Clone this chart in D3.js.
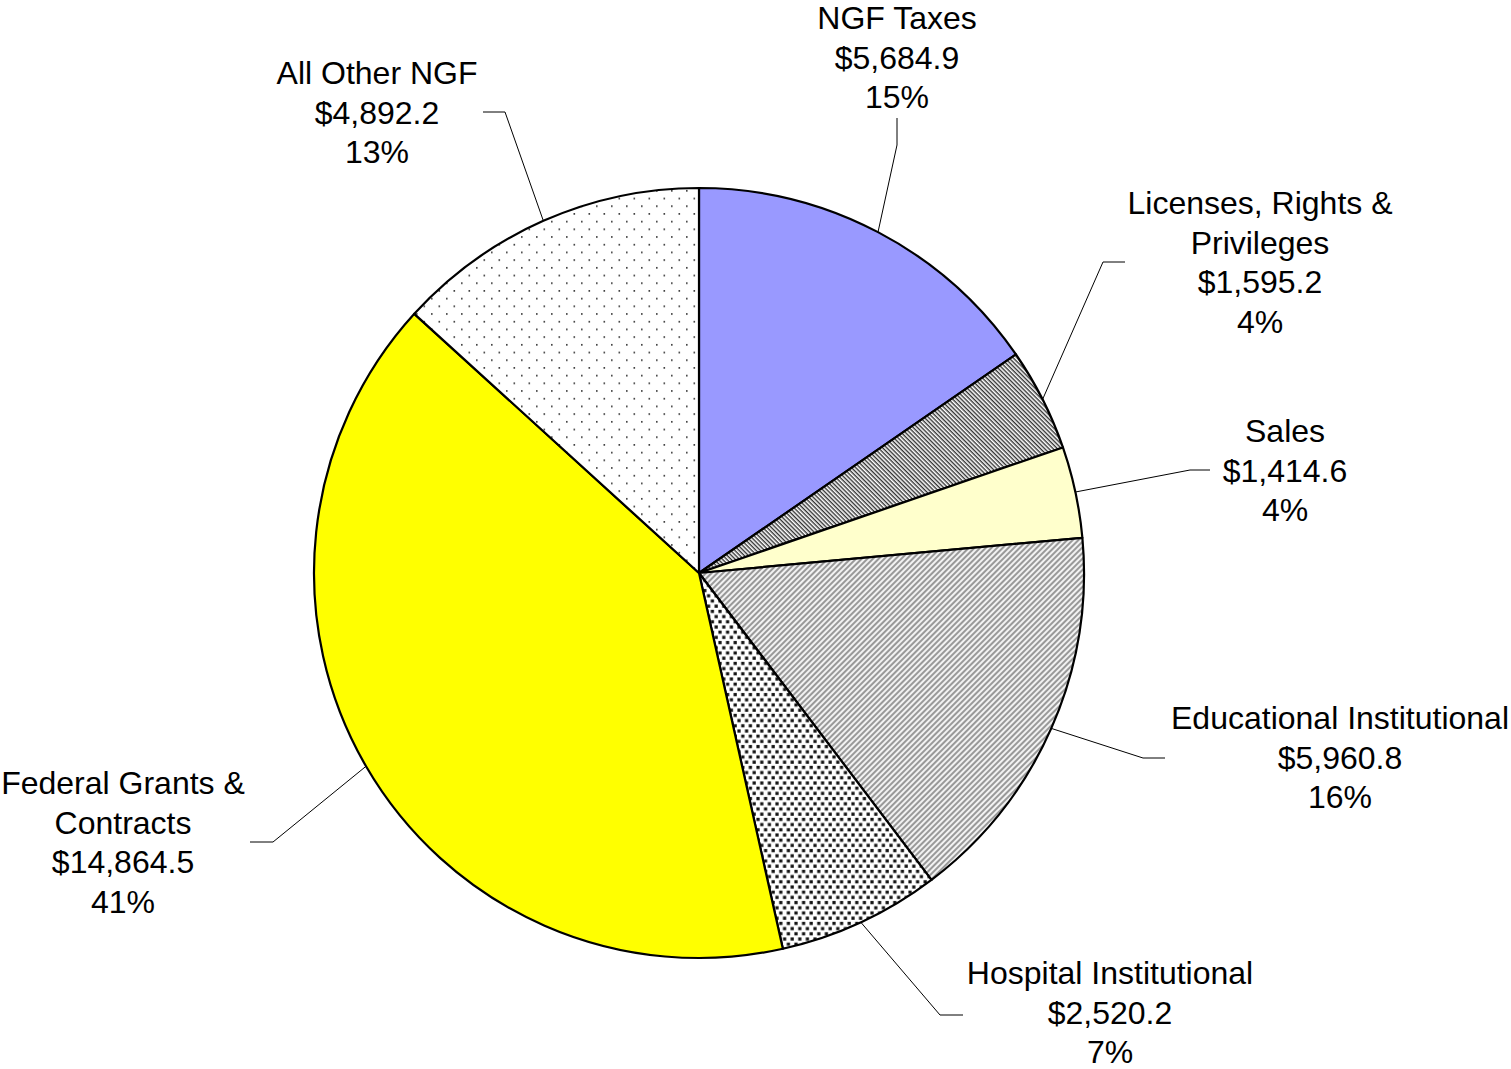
<!DOCTYPE html>
<html>
<head>
<meta charset="utf-8">
<script src="https://cdn.jsdelivr.net/npm/d3@7"></script>
<style>
  body { margin: 0; background: #fff; }
  text { font-family: "Liberation Sans", Arial, sans-serif; font-size: 32px; fill: #000; }
</style>
</head>
<body>
<div id="chart"></div>
<script>
// data
const names = [
    ["NGF Taxes"],
    ["Licenses, Rights &", "Privileges"],
    ["Sales"],
    ["Educational Institutional"],
    ["Hospital Institutional"],
    ["Federal Grants &", "Contracts"],
    ["All Other NGF"]
];
const amounts = [5684.9, 1595.2, 1414.6, 5960.8, 2520.2, 14864.5, 4892.2];
const pctLabels = ["15%", "4%", "4%", "16%", "7%", "41%", "13%"];
const fills = ["#9999ff", "url(#diagDark)", "#ffffcc", "url(#diagGray)", "url(#dotsDense)", "#ffff00", "url(#dotsSparse)"];

// label placement: text centre x, first line y, elbow point, end of horizontal
const labelPos = [
    { x: 897, y: 18,  elbow: [897, 145], end: [897, 118] },
    { x: 1260, y: 203, elbow: [1103, 262], end: [1125, 262] },
    { x: 1285, y: 431, elbow: [1190, 470], end: [1210, 470] },
    { x: 1340, y: 718, elbow: [1143, 758], end: [1165, 758] },
    { x: 1110, y: 973, elbow: [940, 1015], end: [963, 1015] },
    { x: 123, y: 783, elbow: [273, 842], end: [250, 842] },
    { x: 377, y: 73,  elbow: [505, 112], end: [483, 112] }
];

const width = 1511, height = 1069;
const cx = 699, cy = 573, radius = 385;
const lineH = 39.5;

const svg = d3.select("#chart")
    .append("svg")
    .attr("width", width)
    .attr("height", height);

const defs = svg.append("defs");

// dark "\" hatch
const p1 = defs.append("pattern")
    .attr("id", "diagDark")
    .attr("patternUnits", "userSpaceOnUse")
    .attr("width", 3).attr("height", 3)
    .attr("patternTransform", "rotate(45)");
p1.append("rect").attr("width", 3).attr("height", 3).attr("fill", "#fff");
p1.append("rect").attr("width", 3).attr("height", 1.4).attr("fill", "#333");

// gray "/" hatch
const p2 = defs.append("pattern")
    .attr("id", "diagGray")
    .attr("patternUnits", "userSpaceOnUse")
    .attr("width", 4).attr("height", 4)
    .attr("patternTransform", "rotate(-45)");
p2.append("rect").attr("width", 4).attr("height", 4).attr("fill", "#f2f2f2");
p2.append("rect").attr("width", 4).attr("height", 2).attr("fill", "#999");

// dense dots
const p3 = defs.append("pattern")
    .attr("id", "dotsDense")
    .attr("patternUnits", "userSpaceOnUse")
    .attr("width", 7.6).attr("height", 10.4);
p3.append("rect").attr("width", 7.6).attr("height", 10.4).attr("fill", "#fff");
p3.append("rect").attr("x", 0.4).attr("y", 0.4).attr("width", 3.2).attr("height", 3.2).attr("fill", "#111");
p3.append("rect").attr("x", 4.2).attr("y", 5.6).attr("width", 3.2).attr("height", 3.2).attr("fill", "#111");

// sparse dots
const p4 = defs.append("pattern")
    .attr("id", "dotsSparse")
    .attr("patternUnits", "userSpaceOnUse")
    .attr("width", 15).attr("height", 15.4);
p4.append("rect").attr("width", 15).attr("height", 15.4).attr("fill", "#fff");
p4.append("rect").attr("x", 2).attr("y", 2).attr("width", 1.6).attr("height", 1.6).attr("fill", "#333");
p4.append("rect").attr("x", 9.5).attr("y", 9.7).attr("width", 1.6).attr("height", 1.6).attr("fill", "#333");

const pie = d3.pie().sort(null).value(d => d);
const arcs = pie(amounts);

const arc = d3.arc().innerRadius(0).outerRadius(radius);
const edge = d3.arc().innerRadius(radius).outerRadius(radius);

const g = svg.append("g")
    .attr("transform", `translate(${cx},${cy})`);

g.selectAll("path.slice")
    .data(arcs)
    .enter()
    .append("path")
    .attr("class", "slice")
    .attr("d", arc)
    .attr("fill", (d, i) => fills[i])
    .attr("stroke", "#000")
    .attr("stroke-width", 2.2)
    .attr("stroke-linejoin", "round");

// leader lines
svg.selectAll("polyline.leader")
    .data(arcs)
    .enter()
    .append("polyline")
    .attr("class", "leader")
    .attr("points", (d, i) => {
        const c = edge.centroid(d);
        const lp = labelPos[i];
        return [[cx + c[0], cy + c[1]], lp.elbow, lp.end].map(p => p.join(",")).join(" ");
    })
    .attr("fill", "none")
    .attr("stroke", "#000")
    .attr("stroke-width", 1);

// labels
const fmt = d3.format(",.1f");
const labels = svg.selectAll("text.label")
    .data(arcs)
    .enter()
    .append("text")
    .attr("class", "label")
    .attr("text-anchor", "middle")
    .attr("transform", (d, i) => `translate(${labelPos[i].x},${labelPos[i].y})`);

labels.each(function (d, i) {
    const lines = names[i].concat(["$" + fmt(amounts[i]), pctLabels[i]]);
    d3.select(this).selectAll("tspan")
        .data(lines)
        .enter()
        .append("tspan")
        .attr("x", 0)
        .attr("y", (t, j) => j * lineH)
        .attr("dy", "0.35em")
        .text(t => t);
});
</script>
</body>
</html>
